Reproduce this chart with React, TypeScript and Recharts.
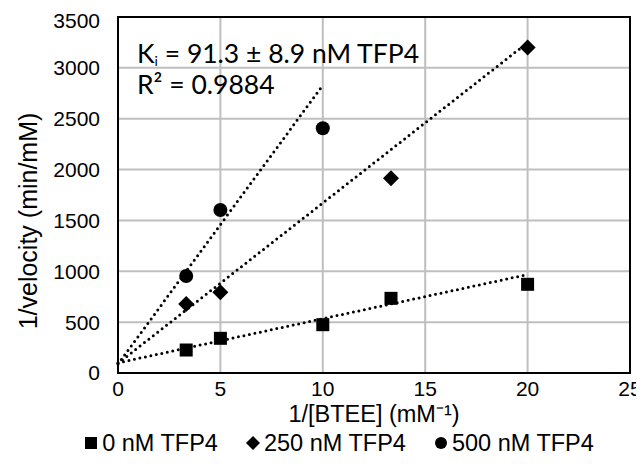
import {
  ComposedChart,
  CartesianGrid,
  Legend,
  Line,
  ReferenceArea,
  Scatter,
  XAxis,
  YAxis,
} from "recharts";

const FONT = "'Liberation Sans', Arial, sans-serif";

const xTicks = [0, 5, 10, 15, 20, 25];
const yTicks = [0, 500, 1000, 1500, 2000, 2500, 3000, 3500];

const conc = [3.33, 5, 10, 13.33, 20];
const tfp0 = [226, 341, 475, 734, 872];
const conc250 = [3.33, 5, 13.33, 20];
const tfp250 = [678, 793, 1914, 3199];
const conc500 = [3.33, 5, 10];
const tfp500 = [954, 1603, 2406];

// trendline ends
const fit0 = [{ x: 0, y: 100 }, { x: 19.9, y: 964 }];
const fit250 = [{ x: 0, y: 95 }, { x: 19.6, y: 3185 }];
const fit500 = [{ x: 0, y: 88 }, { x: 9.95, y: 2815 }];

const pts = (xs: number[], ys: number[]) => xs.map((x, i) => ({ x, y: ys[i] }));

const Square = (p: any) => <rect x={p.cx - 6.5} y={p.cy - 6.5} width={13} height={13} fill="#000" />;
const Diamond = (p: any) => (
  <path d={`M${p.cx},${p.cy - 8}L${p.cx + 8},${p.cy}L${p.cx},${p.cy + 8}L${p.cx - 8},${p.cy}Z`} fill="#000" />
);
const Dot = (p: any) => <circle cx={p.cx} cy={p.cy} r={7} fill="#000" />;

const legendItems = [
  { name: "0 nM TFP4", icon: <rect x={1} y={1} width={12} height={12} /> },
  { name: "250 nM TFP4", icon: <path d="M7,0L14,7L7,14L0,7Z" /> },
  { name: "500 nM TFP4", icon: <circle cx={7} cy={7} r={6} /> },
];

function ChartLegend() {
  return (
    <div
      style={{
        display: "flex",
        justifyContent: "center",
        gap: 28,
        paddingLeft: 40,
        fontFamily: FONT,
        fontSize: 23.5,
        color: "#000",
        lineHeight: "24px",
      }}
    >
      {legendItems.map((it) => (
        <span key={it.name} style={{ display: "flex", alignItems: "center", gap: 4 }}>
          <svg width={14} height={14} fill="#000">{it.icon}</svg>
          {it.name}
        </span>
      ))}
    </div>
  );
}

const dotted = { stroke: "#000", strokeWidth: 3, strokeDasharray: "0 5.6", strokeLinecap: "round" as const };

export default function App() {
  return (
    <ComposedChart width={636} height={459} margin={{ top: 9, right: 14, left: 0, bottom: 0 }}>
      <CartesianGrid stroke="#BFBFBF" strokeWidth={2} />
      <XAxis
        type="number"
        dataKey="x"
        domain={[0, 25]}
        ticks={xTicks}
        tickLine={false}
        axisLine={false}
        tickSize={0}
        tickMargin={8}
        height={60}
        tick={{ fill: "#000", fontSize: 21, fontFamily: FONT }}
        label={{
          value: "1/[BTEE] (mM⁻¹)",
          position: "insideBottom",
          offset: 11,
          style: { fill: "#000", fontSize: 23.5, fontFamily: FONT },
        }}
      />
      <YAxis
        type="number"
        dataKey="y"
        domain={[0, 3500]}
        ticks={yTicks}
        tickLine={false}
        axisLine={false}
        tickSize={0}
        tickMargin={18}
        width={110}
        tick={{ fill: "#000", fontSize: 21, fontFamily: FONT }}
        label={{
          value: "1/velocity (min/mM)",
          angle: -90,
          position: "insideLeft",
          offset: 20,
          dy: 26,
          style: { fill: "#000", fontSize: 25, fontFamily: FONT, textAnchor: "middle" },
        }}
      />
      <ReferenceArea x1={0} x2={25} y1={0} y2={3500} fill="none" stroke="#000" strokeWidth={2} ifOverflow="visible" />
      <Line data={fit0} dataKey="y" dot={false} activeDot={false} legendType="none" isAnimationActive={false} {...dotted} />
      <Line data={fit250} dataKey="y" dot={false} activeDot={false} legendType="none" isAnimationActive={false} {...dotted} />
      <Line data={fit500} dataKey="y" dot={false} activeDot={false} legendType="none" isAnimationActive={false} {...dotted} />
      <Scatter name="0 nM TFP4" data={pts(conc, tfp0)} shape={Square} isAnimationActive={false} />
      <Scatter name="250 nM TFP4" data={pts(conc250, tfp250)} shape={Diamond} isAnimationActive={false} />
      <Scatter name="500 nM TFP4" data={pts(conc500, tfp500)} shape={Dot} isAnimationActive={false} />
      <text x={129} y={55} fontFamily="Lato, sans-serif" fontSize={26.5} fill="#000">
        K<tspan fontSize={14} dy={3}>i</tspan>
        <tspan dy={-3}> = 91.3 ± 8.9 nM TFP4</tspan>
      </text>
      <text x={129} y={86} fontFamily="Lato, sans-serif" fontSize={26.5} fill="#000">
        R² = 0.9884
      </text>
      <Legend verticalAlign="bottom" height={34} wrapperStyle={{ bottom: 2 }} content={<ChartLegend />} />
    </ComposedChart>
  );
}
